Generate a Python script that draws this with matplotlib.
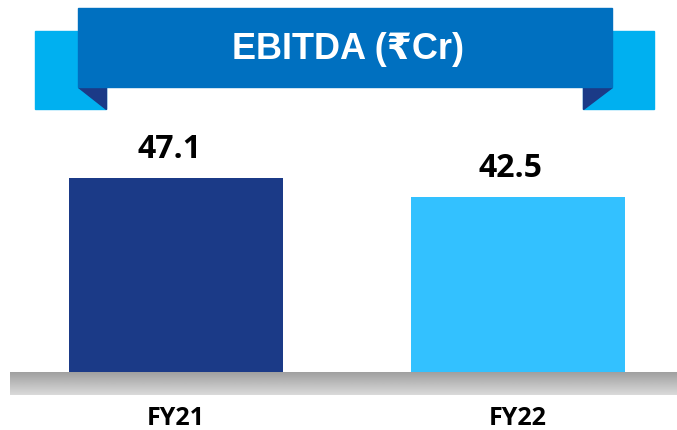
import matplotlib.pyplot as plt
import numpy as np
from matplotlib.patches import Rectangle, Polygon
from matplotlib.colors import LinearSegmentedColormap

# chart data
categories = ["FY21", "FY22"]
values = [47.1, 42.5]
bar_colors = ["#1B3A87", "#33C1FF"]
title = "EBITDA (\u20b9Cr)"

W, H = 677, 430
fig = plt.figure(figsize=(W / 100, H / 100), dpi=100)

# background axes in pixel coordinates for the ribbon and floor
bg = fig.add_axes([0, 0, 1, 1])
bg.axis("off")

# ribbon side tabs
bg.add_patch(Rectangle((35, 31), 71, 78, color="#00B0F0", zorder=1))
bg.add_patch(Rectangle((583, 31), 71, 78, color="#00B0F0", zorder=1))
# folds
bg.add_patch(Polygon([(78, 87), (106, 87), (106, 109)], closed=True, color="#1B3A87", zorder=2))
bg.add_patch(Polygon([(612, 87), (583, 87), (583, 109)], closed=True, color="#1B3A87", zorder=2))
# main band
bg.add_patch(Rectangle((78, 8), 534, 79, color="#0070C0", zorder=3))
bg.text(348, 59, title, color="white", fontsize=26, fontweight="bold",
        family=["Liberation Sans", "DejaVu Sans"], ha="center", va="baseline", zorder=4)

# grey floor with vertical gradient
grad = np.linspace(0, 1, 50).reshape(-1, 1)
floor_cmap = LinearSegmentedColormap.from_list("floor", ["#A0A0A0", "#DADADA"])
bg.imshow(grad, cmap=floor_cmap, extent=(10, W, 395, 372), aspect="auto", zorder=1)
bg.set_xlim(0, W)
bg.set_ylim(H, 0)

# bars axes: zero at y=372px, 4.12 px per unit
zero_px = 372
px_per_unit = 4.12
x = np.arange(len(categories))
ax = fig.add_axes([0, (H - zero_px) / H, 1, zero_px / H])
ax.patch.set_alpha(0)
ax.axis("off")
step = 341.5
ax.set_xlim(-176 / step, (W - 176) / step)
ax.set_ylim(0, zero_px / px_per_unit)
ax.bar(x, values, width=214 / step, color=bar_colors)

for xi, v, c in zip(x, values, categories):
    ax.annotate(f"{v}", (xi, v), xytext=(-5, 14.5), textcoords="offset points",
                ha="center", va="baseline", fontsize=23, fontweight="bold",
                family="Open Sans", color="black")
    ax.annotate(c, (xi, 0), xytext=(0, -38), textcoords="offset points",
                ha="center", va="baseline", fontsize=18, fontweight="bold",
                family="Open Sans", color="black", annotation_clip=False)

fig.savefig("out.png", dpi=100)
